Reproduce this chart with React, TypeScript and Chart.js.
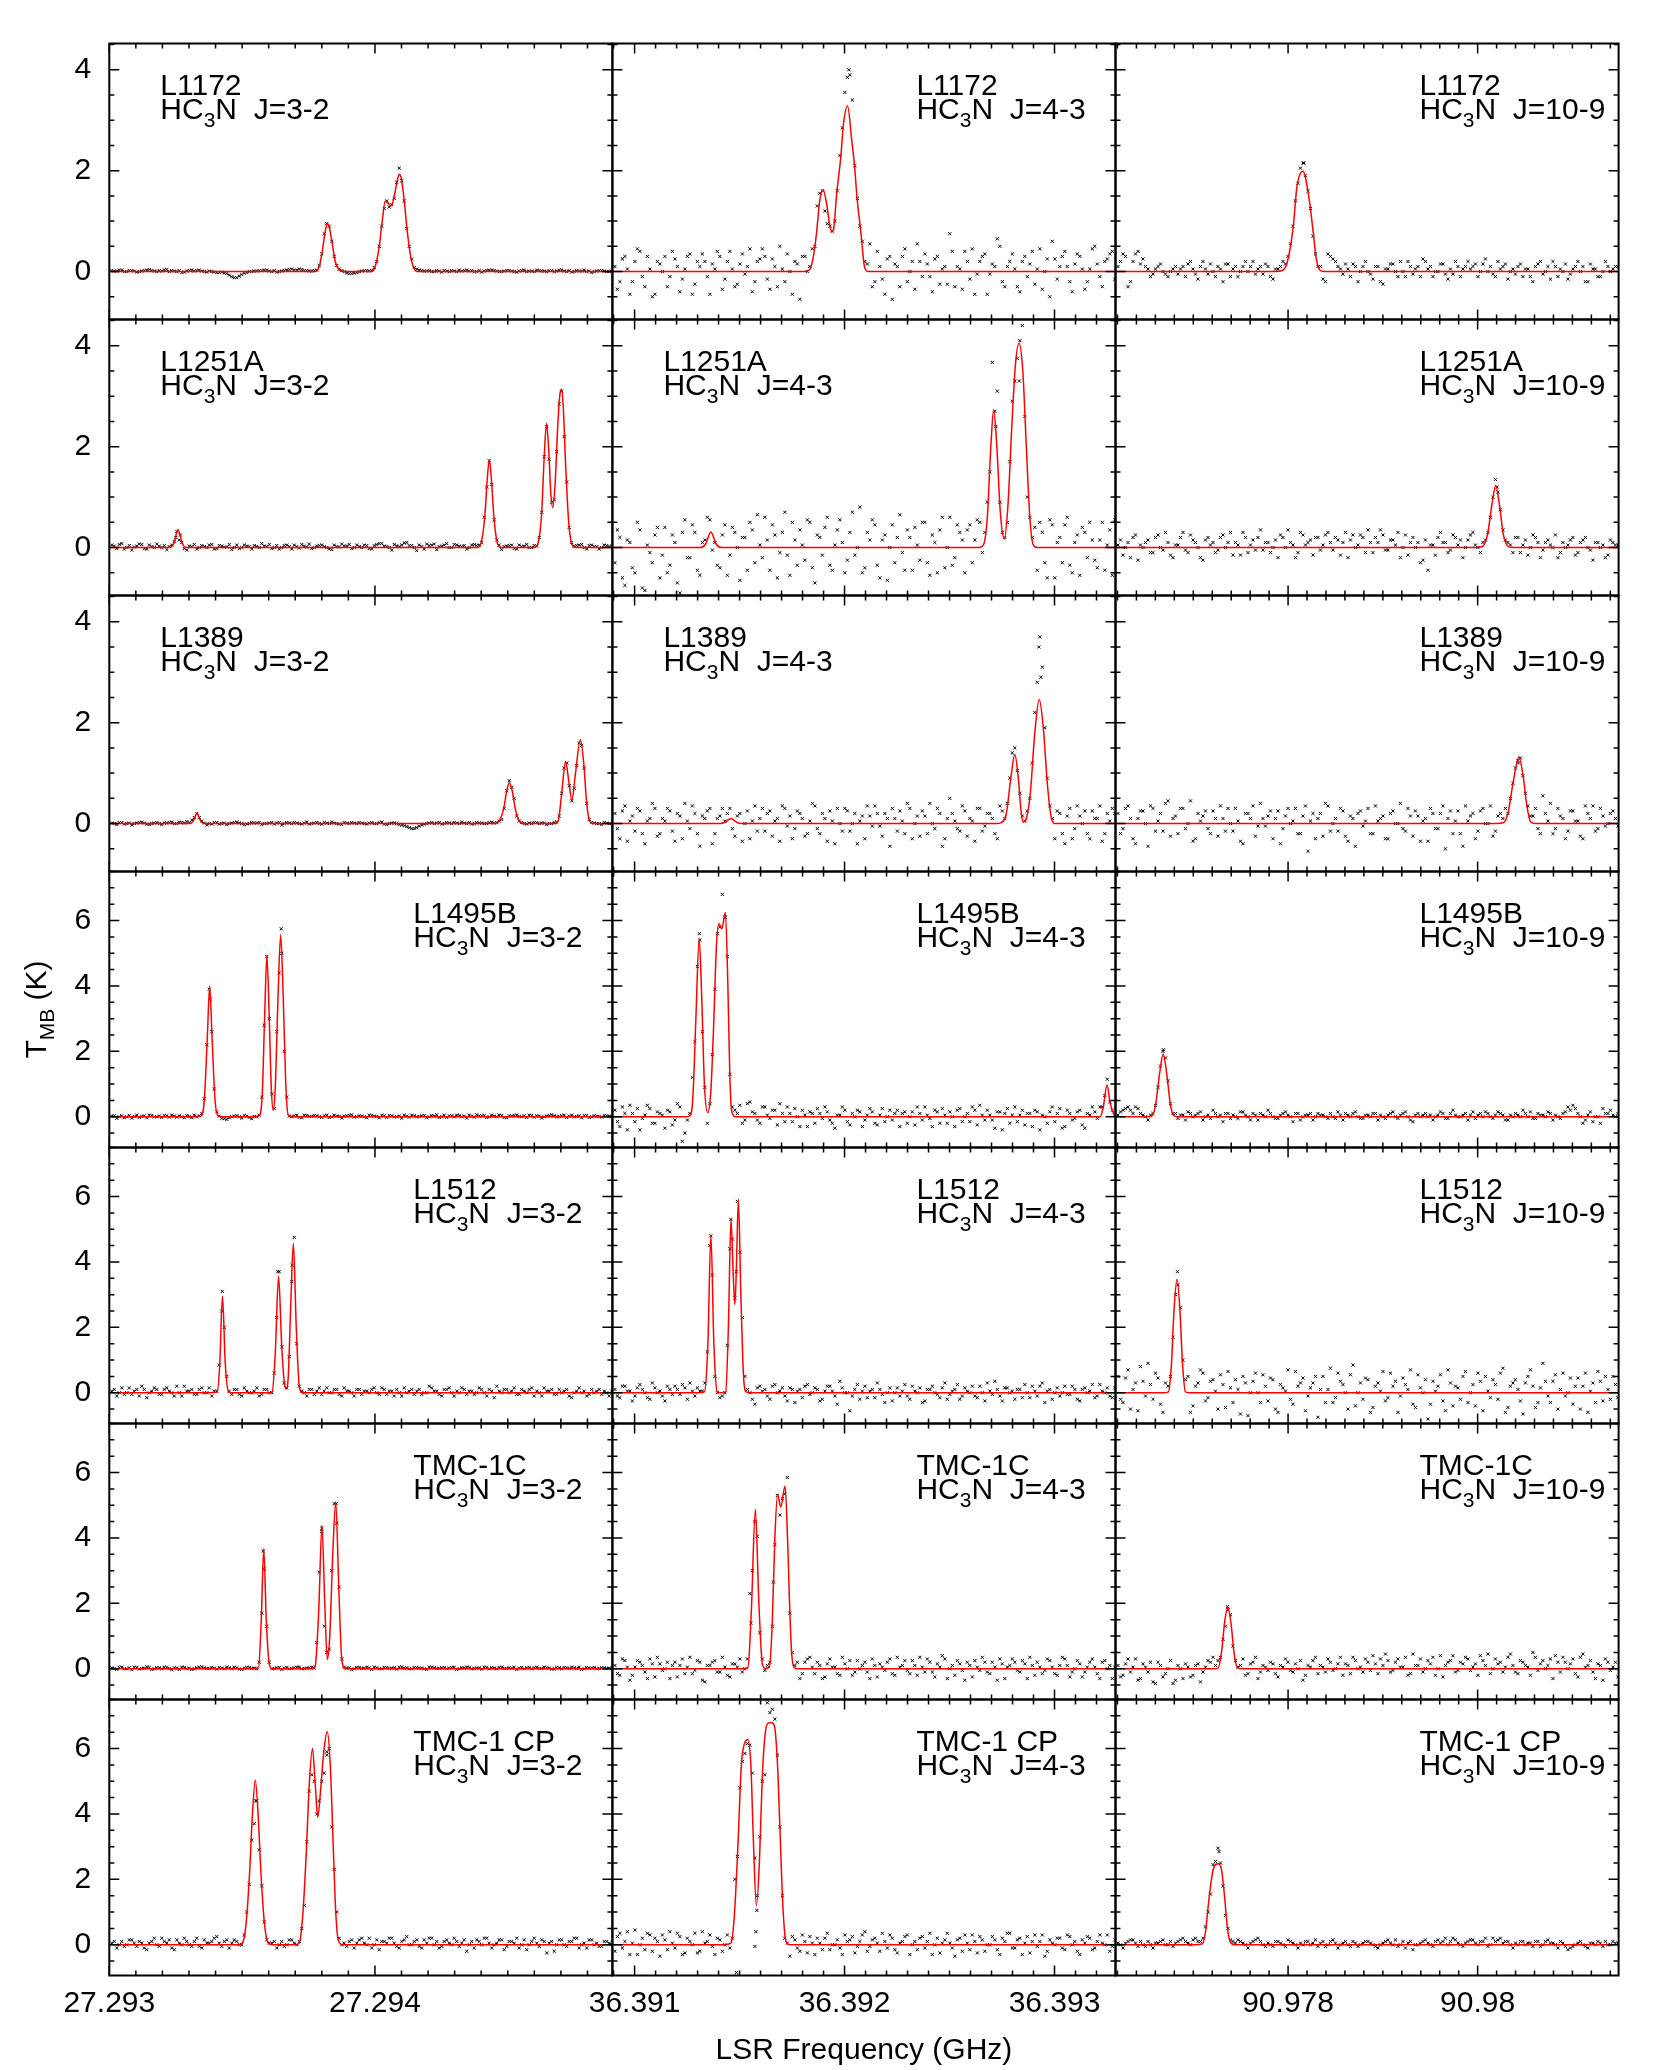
import React, { useEffect, useRef } from 'react';
import { Chart, registerables } from 'chart.js';

Chart.register(...registerables);

// ---------------- axis data ----------------
const SOURCES = ['L1172', 'L1251A', 'L1389', 'L1495B', 'L1512', 'TMC-1C', 'TMC-1 CP'];
const TRANSITIONS = ['J=3-2', 'J=4-3', 'J=10-9'];
const X_MIN = [27.293, 36.3908943, 90.9761793];
const X_MAX = [27.2948939, 36.3932905, 90.9814873];
const X_LABEL_TICKS = [[27.293, 27.294], [36.391, 36.392, 36.393], [90.978, 90.98]];
const X_MINOR_STEP = [0.0001, 0.0001, 0.0002];
const Y_MIN = [-0.95, -0.95, -0.95, -0.94, -0.94, -0.94, -0.94];
const Y_MAX = [4.52, 4.52, 4.52, 7.5, 7.5, 7.5, 7.5];
const Y_LABEL_TICKS = [[0, 2, 4], [0, 2, 4], [0, 2, 4], [0, 2, 4, 6], [0, 2, 4, 6], [0, 2, 4, 6], [0, 2, 4, 6]];
const Y_MINOR_STEP = 0.5;
// channel i (0..100) and half channels i+0.5; panel width = 100.64 channels
const CHANNEL_SPAN = 100.64;
const LABEL_SIDE = [
  ['L', 'R', 'R'],
  ['L', 'L', 'R'],
  ['L', 'L', 'R'],
  ['R', 'R', 'R'],
  ['R', 'R', 'R'],
  ['R', 'R', 'R'],
  ['R', 'R', 'R'],
];

// ---------------- spectra (T_MB in K) ----------------
// L1172
const L1172_J32_DOTS = [0.02,0.01,0.03,0,0.02,-0.01,0.01,0.03,0.02,0,
  0.01,0.04,0.02,0,-0.02,0.01,0.03,0.02,0.01,-0.01,
  0,-0.02,-0.01,-0.04,-0.1,-0.12,-0.06,-0.02,0,0.01,
  0.02,0.03,0,-0.01,0.01,0.03,0.05,0.03,0.04,0.02,
  0.01,0.03,0.35,0.95,0.6,0.12,0.02,-0.03,-0.04,-0.02,
  0.01,0.02,0.02,0.2,0.9,1.4,1.33,1.77,1.8,0.85,
  0.25,0.05,0.02,0.01,0,0.02,-0.01,0.01,0.02,0,
  0.01,0.03,0.02,0,-0.01,0.02,0.03,0.01,0,0.02,
  0.01,-0.01,0.02,0,0.01,0.03,0.01,0,0.02,0.01,
  0.03,0,-0.01,0.02,0.01,0,-0.02,0.01,0.02,0,
  0.01];
const L1172_J32_HALF = [0.01,0.03,0,0.02,0.01,0,0.02,0.04,0.01,0.02,
  0.03,0,0.01,0.02,-0.01,0.02,0.01,0.03,0,0.01,
  -0.01,-0.02,-0.03,-0.07,-0.12,-0.09,-0.03,0,0.01,0.02,
  0.03,0.01,0.02,0,0.02,0.04,0.03,0.05,0.02,0.01,
  0.02,0.12,0.75,0.9,0.3,0.05,0,-0.04,-0.03,0,
  0.02,0.01,0.08,0.5,1.25,1.28,1.45,2.05,1.4,0.5,
  0.08,0.03,0.01,0.02,0,0.01,0.02,0,0.01,0.03,
  0.02,0.01,0,0.02,0.01,0.03,0.02,0,0.01,0.02,
  0,0.01,0.03,0.01,0,0.02,0.01,0.02,0,0.03,
  0.01,0.02,0,0.01,0.03,0.01,0,0.02,0.01,0];
const L1172_J32_EXTRA: number[][] = [];
const L1172_J32_FIT = [[-0.5,0],[40.7,0],[41.5,0.1],[42.1,0.4],[42.7,0.8],[43.1,0.95],[43.5,0.88],[44.1,0.55],[44.7,0.2],[45.5,0.03],[46.3,0],
  [51.9,0],[52.7,0.1],[53.5,0.5],[54.1,1.0],[54.7,1.4],[55.3,1.35],[55.9,1.3],[56.5,1.5],[57.1,1.8],[57.5,1.93],[57.9,1.85],[58.5,1.4],[59.1,0.8],[59.7,0.35],[60.3,0.1],[61.1,0],[100.14,0]];

const L1172_J43_DOTS = [0.1,-0.2,0.3,-0.45,0.2,0.4,-0.3,0.05,-0.45,0.15,
  0.3,-0.1,0.25,-0.4,0.05,0.35,-0.25,0.1,0.2,-0.45,
  0.05,0.3,-0.15,0.4,-0.3,0.15,-0.05,0.45,-0.2,0.25,
  0.3,-0.35,0.1,0.5,-0.2,0,0.2,-0.55,0.3,0.1,
  0.5,1.55,1.2,0.9,1.0,2.3,3.55,3.9,2.1,0.9,
  0.2,0.55,-0.2,0.1,-0.45,0.3,0.15,-0.3,0.45,0,
  -0.35,0.2,0.35,-0.1,0.25,-0.25,0.1,0.75,-0.3,0.05,
  0.4,-0.15,-0.45,0.2,0.35,-0.05,0.1,0.5,-0.3,0.2,
  0.05,-0.4,0.3,0.15,-0.25,0.45,0,-0.5,0.25,0.1,
  0.4,-0.2,0.15,0.3,-0.35,0.05,0.5,-0.1,0.2,0.35,
  -0.15];
const L1172_J43_HALF = [-0.35,0.25,0.05,-0.2,0.45,-0.1,0.3,-0.5,0.2,0,
  -0.3,0.4,0.1,-0.15,0.3,-0.45,0.2,0.35,-0.1,0.15,
  0.4,-0.35,0.2,0.05,-0.25,0.35,0.1,-0.4,0.2,0.45,
  -0.15,0.25,-0.3,0.05,0.35,-0.45,0.15,0.3,0,0.45,
  1.3,1.6,0.95,0.8,1.6,2.85,3.85,3.4,1.45,0.6,
  0.15,-0.3,0.4,-0.15,0.25,-0.55,0.1,0.3,-0.2,0.2,
  0.55,-0.1,0.15,-0.4,0.3,0.05,-0.25,0.4,0.1,-0.35,
  0.2,0.45,-0.05,0.3,-0.45,0.15,0.65,-0.2,0.1,0.35,
  -0.3,0.2,-0.1,0.4,0.05,-0.35,0.25,0.6,-0.15,0.3,
  0.1,-0.4,0.35,0.05,-0.2,0.45,0.15,-0.3,0.25,0.4];
const L1172_J43_EXTRA = [[46.8,4.0]];
const L1172_J43_FIT = [[-0.5,0],[37.5,0],[38.9,0.03],[39.64,0.26],[40.32,0.75],[40.98,1.41],[41.66,1.62],[42.34,1.35],[43.02,0.89],[43.42,0.79],[43.82,0.89],
  [44.36,1.54],[45.18,2.26],[45.72,2.92],[46.54,3.28],[47.42,2.56],[47.92,2.12],[48.42,1.48],[49.24,0.75],[49.92,0.1],[50.7,0],[100.14,0]];

const L1172_J109_DOTS = [0.1,0.35,-0.3,0.2,0.4,0.25,0.05,-0.05,0.1,0,
  -0.1,0.05,-0.05,0.1,0.15,0.05,-0.15,0.2,-0.05,0,
  0.1,-0.2,0.15,0.05,-0.1,0.1,0,0.2,0.05,-0.05,
  0.1,-0.15,0.05,0.2,0.3,0.9,1.75,2.15,1.6,0.7,
  0.1,-0.15,0.35,0.25,0.1,-0.05,0.05,0.15,-0.2,0.1,
  0,-0.15,0.1,-0.25,0.05,0.15,-0.1,0,0.2,-0.05,
  0.1,0.25,0.05,-0.1,0,0.15,-0.15,-0.05,0.1,0.05,
  0.2,0.1,-0.1,0.15,0,-0.05,0.2,0.1,-0.15,0.05,
  0.1,-0.1,0.05,-0.2,0.15,-0.05,0.1,0.2,-0.1,0,
  -0.15,0.05,0.2,0.1,-0.2,0.05,-0.1,0,0.1,0.05,
  0.1];
const L1172_J109_HALF = [0.2,0.3,-0.2,0.35,0.15,0.1,-0.1,0.05,0.15,-0.05,
  0,0.1,0.05,-0.1,0.2,-0.05,0.1,0.05,0.15,-0.1,
  0.05,0.15,-0.1,0.1,0,0.2,0.1,-0.05,0.1,0.15,
  -0.1,0.05,0.1,0.15,0.55,1.4,2.05,1.9,1.25,0.35,
  0.1,-0.2,0.3,0.2,0.05,0.15,-0.1,0.1,0,0.2,
  -0.05,0.1,-0.2,0.05,0.15,0,0.2,-0.1,0.1,0.05,
  -0.1,0.2,0.1,0,0.15,-0.05,0.05,0.2,-0.1,0.1,
  0.05,0.15,0,0.25,0.1,-0.1,0.05,0.15,0,-0.05,
  0.15,0.05,-0.1,0.1,0.2,0,-0.15,0.1,0.05,0.15,
  -0.05,0.1,0,-0.2,0.15,0.05,-0.1,0.2,0,0.1];
const L1172_J109_EXTRA = [[37.2,2.15]];
const L1172_J109_FIT = [[-0.5,0],[31.5,0],[32.9,0.02],[33.9,0.2],[35.06,0.89],[35.78,1.67],[37.0,1.99],[38.28,1.41],[39.0,0.82],[39.7,0.23],[40.5,0.02],[41.5,0],[100.14,0]];

// L1251A
const L1251A_J32_DOTS = [0.05,-0.02,0.08,0,-0.05,0.03,0.06,-0.03,0.02,0.07,
  0,-0.04,0.05,0.32,0.1,-0.05,0.02,-0.03,0.04,0,
  0.06,-0.02,0.03,0.01,-0.04,0.05,0,0.03,-0.03,0.02,
  0.08,0.02,-0.02,0.04,0,0.05,-0.03,0.02,0.06,0.01,
  -0.02,0.03,0.05,0,-0.04,0.02,0.07,0.03,-0.02,0.05,
  0,0.04,-0.03,0.06,0.08,0.02,-0.05,0.03,0.05,0.1,
  0.04,-0.06,0.02,0.07,0.05,-0.04,0.03,0.08,0,0.05,
  0.02,-0.03,0.05,0.04,0.1,1.2,1.25,0.15,-0.04,0.03,
  0.05,-0.03,0.02,0.06,0,0.03,0.7,2.4,0.9,1.9,
  3.1,1.3,0.1,0.04,0.06,-0.03,0.05,0.02,0,0.04,
  0.03];
const L1251A_J32_HALF = [0.03,0.06,-0.03,0.04,0.01,0.07,-0.02,0.05,0,0.03,
  0.04,0.02,0.12,0.15,-0.02,0.03,0.06,0,0.02,0.05,
  -0.03,0.04,0.01,0.06,0,-0.02,0.05,0.02,0.04,0,
  0.03,0.06,0,-0.03,0.04,0.02,0.05,-0.01,0.03,0.07,
  0,0.04,0.02,-0.03,0.05,0.01,0.03,0.06,0,0.02,
  0.05,-0.02,0.04,0.08,0.03,0,0.06,0.02,0.09,0.04,
  0,0.05,-0.03,0.04,0.07,0.02,0.05,0,0.06,0.03,
  0.04,0,0.06,0.05,0.6,1.72,0.55,0.05,0.02,0.04,
  -0.02,0.05,0.03,0,0.04,0.2,1.8,1.75,0.95,2.85,
  2.2,0.4,0.03,0.05,0,0.04,0.02,-0.03,0.05,0.02];
const L1251A_J32_EXTRA = [[12.8,0.2],[13.7,0.25]];
const L1251A_J32_FIT = [[-0.5,0],[11.5,0],[12.4,0.08],[13.24,0.36],[14.1,0.08],[14.9,0],
  [73.1,0],[73.9,0.1],[74.6,0.6],[75.1,1.35],[75.52,1.74],[75.94,1.35],[76.44,0.6],[77.1,0.1],[77.9,0],
  [84.5,0],[85.3,0.1],[86.0,0.7],[86.5,1.8],[86.96,2.46],[87.42,1.9],[87.8,1.1],[88.22,0.79],[88.7,1.3],[89.2,2.4],[89.6,3.0],[89.92,3.14],[90.3,2.8],[90.8,1.6],[91.4,0.5],[92.1,0.05],[92.9,0],[100.14,0]];

const L1251A_J43_DOTS = [-0.3,0.2,-0.75,0.1,-0.5,0.35,-0.85,-0.1,0.25,-0.6,
  0.4,-0.35,0.1,-0.9,0.55,-0.2,0.3,-0.55,0.15,0.55,
  0.1,-0.4,0.45,-0.15,0.3,-0.65,0.2,0.5,-0.3,0.05,
  0.6,-0.45,0.25,-0.1,0.7,-0.55,0.15,0.35,-0.25,0.5,
  -0.7,0.2,0.4,-0.35,0.05,0.55,-0.5,0.3,-0.15,0.8,
  -0.4,0.15,0.45,-0.6,0.25,0,-0.3,0.65,-0.45,0.2,
  0.4,-0.25,0.5,-0.55,0.1,0.35,-0.4,0.6,-0.2,0.3,
  -0.5,0.45,0.15,0.5,0.3,1.5,2.7,0.9,0.2,1.7,
  3.3,4.1,2.6,0.6,0.4,0.5,-0.3,0.55,-0.6,0.2,
  0.45,-0.35,0.1,-0.55,0.3,0.5,-0.25,0.15,-0.45,0.35,
  0.55];
const L1251A_J43_HALF = [0.35,-0.6,0.15,-0.4,0.5,-0.8,0.05,-0.3,0.4,-0.15,
  -0.5,0.25,-0.7,0.3,-0.2,0.45,-0.45,0.1,0.6,-0.05,
  -0.35,0.25,-0.55,0.4,0,0.2,-0.45,0.35,0.65,-0.2,
  0.15,0.45,-0.6,0.3,-0.15,0.5,-0.35,0.05,0.55,-0.4,
  0.25,-0.15,0.6,-0.45,0.35,0.1,-0.25,0.7,0,-0.5,
  0.3,0.55,-0.35,0.15,-0.65,0.45,0.2,-0.1,0.35,-0.45,
  0.05,0.5,-0.3,0.25,-0.5,0.6,0,-0.35,0.45,0.15,
  0.35,-0.3,0.55,-0.1,0.9,3.67,3.1,0.3,0.5,2.9,
  3.75,4.4,1.0,0.2,-0.45,0.3,-0.6,0.45,0.1,-0.3,
  0.6,-0.5,0.25,0.4,-0.2,0.15,-0.4,0.5,0.05,-0.55];
const L1251A_J43_EXTRA = [[76.2,2.4],[80.9,3.3]];
const L1251A_J43_FIT = [[-0.5,0],[17.1,0],[18.1,0.06],[19.2,0.31],[20.3,0.06],[21.3,0],
  [72.7,0],[73.7,0.05],[74.5,0.6],[75.2,2.0],[75.76,2.73],[76.4,2.0],[77.1,0.7],[77.88,0.17],[78.6,0.8],[79.4,2.4],[80.1,3.6],[80.84,4.05],[81.6,3.5],[82.3,2.0],[83.0,0.6],[83.7,0.05],[84.5,0],[100.14,0]];

const L1251A_J109_DOTS = [0.05,-0.15,0.1,0.2,-0.25,0,0.15,-0.1,0.25,-0.05,
  0.1,-0.2,0.05,0.3,-0.1,0.15,0,-0.25,0.2,0.1,
  -0.05,0.25,0.1,-0.15,0.05,0.3,-0.1,0.15,0.2,-0.05,
  0.1,0,-0.2,0.2,0.35,0.05,-0.1,0.25,0.1,-0.15,
  0.2,0.05,0.3,-0.05,0.15,0.1,-0.2,0.25,0.05,0.2,
  0.35,-0.1,0.1,0.25,-0.05,0.15,0.3,0,-0.15,0.2,
  0.1,-0.25,-0.45,0.05,0.2,0.1,-0.1,0.25,0.05,-0.2,
  0.15,0.3,0,0.1,0.3,1.0,1.1,0.35,0.1,-0.1,
  0.2,0.05,-0.15,0.25,0.1,-0.05,0.15,0,-0.2,0.1,
  0.05,0.2,-0.1,0.15,0,-0.25,0.1,0.05,-0.15,0.1,
  0.05];
const L1251A_J109_HALF = [0.15,0,-0.2,0.25,0.05,0.1,-0.1,0.2,0,0.3,
  -0.15,0.05,0.2,-0.05,0.25,0.1,-0.2,0.15,0.05,-0.1,
  0.2,0,0.3,0.1,-0.15,0.2,0.05,-0.05,0.35,0.1,
  -0.1,0.15,0.25,0,0.1,-0.2,0.3,0.05,0.15,0.2,
  -0.05,0.25,0.1,0.2,-0.15,0.3,0.15,0,0.25,-0.1,
  0.1,0.2,0.35,-0.05,0.15,0.05,-0.2,0.25,0.1,0,
  -0.3,0.15,0.05,-0.15,0.3,0.1,-0.05,0.2,0.15,0,
  0.25,0.05,-0.1,0.15,0.6,1.35,0.75,0.15,0.05,0.2,
  -0.1,0.15,0,0.2,-0.2,0.1,0.05,0.25,-0.1,0,
  0.15,-0.15,0.1,0.2,-0.05,0.1,0,-0.2,0.15,0.05];
const L1251A_J109_EXTRA = [[75.8,1.2]];
const L1251A_J109_FIT = [[-0.5,0],[71.5,0],[72.9,0.02],[73.9,0.25],[74.8,0.85],[75.56,1.23],[76.3,0.85],[77.1,0.25],[78.1,0.02],[79.1,0],[100.14,0]];

// L1389
const L1389_J32_DOTS = [0.01,-0.02,0.02,0,-0.03,0.01,0.03,-0.01,0,0.02,
  -0.02,0.01,0.03,0,0.02,0.04,0.07,0.2,0.05,-0.03,
  -0.01,0.02,0,-0.02,0.01,0.03,0,-0.01,0.02,0.01,
  -0.02,0,0.02,0.01,-0.03,0.02,0,0.01,-0.01,0.03,
  0,0.02,-0.01,0.01,0.03,0,-0.02,0.01,0.02,0,
  0.01,-0.01,0.02,0,0.03,-0.02,0.01,0,-0.03,-0.06,
  -0.1,-0.08,-0.03,0,0.02,0.01,-0.01,0.02,0,0.01,
  0.03,0,-0.01,0.02,0.01,0,0.03,0.02,0.08,0.65,
  0.72,0.15,0.02,-0.01,0,0.02,0.01,-0.02,0,0.03,
  0.6,1.2,0.45,1.15,1.55,0.4,0.02,0,-0.02,0.01,
  0];
const L1389_J32_HALF = [0,0.02,-0.01,0.01,0,0.02,0.01,-0.02,0.01,0,
  0.01,0.02,0,0.03,0.01,0.02,0.12,0.12,0.01,0,
  0.02,-0.01,0.01,0,0.02,0.01,-0.02,0,0.01,0.02,
  0,0.01,-0.01,0.02,0,0.01,0.02,0,0.01,-0.01,
  0.01,0,0.02,0,0.01,-0.01,0.02,0,0.01,0.02,
  0,0.01,0,0.02,-0.01,0,0.01,-0.02,-0.04,-0.08,
  -0.1,-0.05,-0.01,0.01,0,0.02,0,0.01,0.02,0,
  0.01,0.02,0,0.01,0,0.02,0.01,0.05,0.3,0.85,
  0.5,0.05,0,0.01,0.02,0,0.01,0,0.02,0.15,
  1.1,0.75,0.7,1.6,1.1,0.08,0.01,0,0.02,0];
const L1389_J32_EXTRA: number[][] = [];
const L1389_J32_FIT = [[-0.5,0],[15.5,0],[16.3,0.05],[17.04,0.2],[17.8,0.05],[18.5,0],
  [76.7,0],[77.5,0.05],[78.4,0.3],[79.0,0.65],[79.54,0.81],[80.1,0.65],[80.7,0.3],[81.5,0.05],[82.3,0],
  [88.5,0],[89.3,0.05],[90.0,0.6],[90.78,1.23],[91.4,0.85],[92.04,0.46],[92.7,0.95],[93.74,1.66],[94.4,1.2],[95.0,0.4],[95.6,0.05],[96.5,0],[100.14,0]];

const L1389_J43_DOTS = [0.2,-0.3,0.35,0.05,-0.15,0.25,-0.4,0.1,0.3,-0.2,
  0.05,0.25,-0.35,0.15,0.4,-0.1,0.2,-0.45,0.1,0.3,
  -0.2,0.15,0.05,0.3,-0.25,0.2,0,-0.3,0.35,0.1,
  -0.15,0.25,0.05,-0.35,0.3,0.15,-0.1,0.2,-0.25,0.05,
  0.35,-0.2,0.1,0.25,-0.4,0,0.3,-0.15,0.2,0.05,
  -0.3,0.15,0.35,-0.05,0.2,-0.45,0.1,0.25,-0.2,0.3,
  0,-0.25,0.15,0.4,-0.1,0.2,-0.3,0.5,0.05,-0.15,
  0.25,0.1,-0.35,0.3,-0.05,0.2,-0.2,0.35,0.1,0.9,
  1.5,0.6,0.05,0.5,2.2,3.7,1.9,0.35,-0.3,0.2,
  -0.4,0.3,-0.1,0.15,0.25,-0.3,0.1,0.35,-0.2,0.05,
  0.2];
const L1389_J43_HALF = [-0.1,0.25,-0.35,0.15,0.3,-0.2,0.05,0.4,-0.25,0.1,
  0.3,-0.15,0.2,-0.3,0.05,0.35,-0.2,0.15,0.25,-0.4,
  0.1,0.3,0.2,-0.1,0.15,-0.35,0.25,0.05,-0.15,0.3,
  0.2,-0.25,0.1,0.35,-0.05,-0.3,0.25,0.1,-0.2,0.4,
  -0.1,0.2,-0.35,0.05,0.3,-0.15,0.25,0,-0.4,0.15,
  0.35,-0.05,0.2,-0.25,0.1,0.3,-0.15,0.05,0.4,-0.3,
  0.15,0.25,-0.2,0,0.3,-0.45,0.1,0.2,-0.1,0.35,
  -0.25,0.05,0.3,-0.15,0.2,0.1,-0.3,0.25,0.4,1.4,
  1.05,0.15,0.25,1.2,2.8,3.1,0.9,0.1,0.25,-0.2,
  0.15,-0.3,0.35,0,-0.2,0.25,0.1,-0.35,0.2,0.3];
const L1389_J43_EXTRA = [[84.8,3.5],[85.2,2.9]];
const L1389_J43_FIT = [[-0.5,0],[21.1,0],[22.1,0.03],[23.22,0.1],[24.3,0.03],[25.3,0],
  [76.3,0],[77.3,0.02],[78.3,0.2],[79.2,0.9],[80.0,1.37],[80.7,0.9],[81.3,0.2],[81.7,0.03],[82.3,0.1],[83.1,0.6],[84.0,1.8],[84.88,2.46],[85.7,1.9],[86.5,0.8],[87.3,0.12],[88.1,0],[100.14,0]];

const L1389_J109_DOTS = [0.2,-0.1,0.35,-0.3,0.1,0.25,-0.45,0.3,0.05,-0.15,
  0.45,0.1,-0.2,0.3,0,-0.35,0.2,0.15,-0.1,0.25,
  -0.25,0.1,0.3,-0.15,0.05,-0.4,0.2,0.35,-0.05,0.1,
  0.15,-0.3,0.25,-0.1,0.3,0.05,-0.2,0.15,-0.55,0.2,
  0.1,-0.25,0.35,0,-0.15,0.25,-0.35,0.1,0.2,-0.05,
  0.3,-0.2,0.05,0.15,-0.3,0.25,0,-0.1,0.3,-0.25,
  0.15,0.05,-0.35,0.2,-0.1,0.35,0.1,-0.2,0.25,-0.45,
  0.05,0.2,-0.15,0.3,0,-0.25,0.15,0.1,0.2,0.8,
  1.25,0.95,0.35,0.15,-0.1,0.55,0.05,-0.2,0.3,0.1,
  -0.15,0.25,0.05,-0.3,0.2,0.35,-0.1,0.15,0,0.25,
  -0.05];
const L1389_J109_HALF = [-0.2,0.3,0.1,-0.4,0.25,0,0.35,-0.15,0.2,0.4,
  -0.25,0.15,0.3,-0.1,0.45,-0.3,0.05,0.25,-0.2,0.1,
  0.35,-0.15,0,0.3,-0.35,0.2,0.1,-0.25,0.4,-0.05,
  0.25,0.1,-0.4,0.15,0,0.3,-0.2,0.35,0.05,-0.3,
  0.2,0.4,-0.15,0.1,0.3,-0.25,0.15,-0.45,0.25,0.05,
  -0.2,0.35,0.1,-0.3,0.2,0,0.4,-0.15,0.15,0.25,
  -0.35,0.1,0.3,-0.1,0.2,-0.5,0.25,0.05,-0.2,0.35,
  0.15,-0.3,0.25,0,0.35,-0.15,0.2,0.3,0.5,1.1,
  1.3,0.6,0.15,0.3,-0.2,0.2,0.4,-0.1,0.15,-0.3,
  0.25,0.05,-0.25,0.35,0.1,-0.15,0.3,-0.05,0.2,0.1];
const L1389_J109_EXTRA = [[80.1,1.2]];
const L1389_J109_FIT = [[-0.5,0],[75.7,0],[77.2,0.02],[78.1,0.25],[79.1,0.85],[80.22,1.32],[81.1,0.9],[81.8,0.35],[82.56,0.03],[83.5,0],[100.14,0]];

// L1495B
const L1495B_J32_DOTS = [0.02,-0.05,0.03,0,-0.04,0.05,0.01,-0.03,0.04,0,
  -0.02,0.03,0.05,-0.01,0,0.04,-0.03,0,0.1,2.2,
  2.6,0.15,-0.05,-0.08,0,0.03,-0.04,0.02,-0.06,0,
  0.6,4.9,0.7,2.6,5.0,0.6,0,0.05,-0.03,0.04,
  0.01,0.03,-0.02,0.05,0,0.02,-0.04,0.03,0.06,0,
  0.02,-0.03,0.04,0.01,0.05,-0.02,0.03,0,-0.04,0.02,
  0.05,0,0.03,-0.03,0.04,0.06,0,-0.02,0.03,0.05,
  0,-0.04,0.02,0.06,0.03,-0.02,0.05,0,0.04,-0.03,
  0.02,0.05,0,-0.02,0.04,0.03,-0.04,0.02,0.06,0,
  0.03,-0.02,0.05,0.01,-0.03,0.04,0,0.02,-0.01,0.03,
  0];
const L1495B_J32_HALF = [0.03,0,-0.03,0.04,0.01,-0.02,0.03,0.05,0,0.02,
  0.04,-0.01,0.02,0.03,-0.03,0.01,0.05,0.03,0.55,3.9,
  0.85,0.02,-0.06,-0.03,0.02,0,0.04,-0.02,0.01,0.05,
  2.8,3.0,0.25,4.4,2.0,0.02,0.03,-0.02,0.05,0.01,
  0.04,0,0.03,-0.02,0.05,0.01,0.02,0.04,-0.01,0.03,
  0,0.05,0.02,-0.03,0.03,0.04,0,0.02,0.05,-0.01,
  0.03,0.01,0.04,0,0.02,-0.02,0.05,0.03,0,0.04,
  0.02,0.05,-0.01,0.03,0.04,0,0.02,0.05,-0.02,0.03,
  0.04,0.01,0.03,0.05,-0.01,0.02,0,0.04,0.03,0.01,
  0.05,0.02,0,0.03,0.04,-0.02,0.03,0.01,0.04,0.02];
const L1495B_J32_EXTRA = [[19.7,3.6],[33.9,5.75]];
const L1495B_J32_FIT = [[-0.5,0],[16.5,0],[17.8,0.02],[18.5,0.5],[19.1,2.4],[19.58,3.99],[20.06,2.4],[20.66,0.5],[21.3,0.02],[22.3,0],
  [28.3,0],[29.5,0.03],[30.1,0.7],[30.6,3.2],[31.02,4.93],[31.5,3.0],[31.9,0.9],[32.3,0.2],[32.7,0.9],[33.2,3.4],[33.78,5.57],[34.3,3.6],[34.8,1.0],[35.3,0.05],[36.3,0],[100.14,0]];

const L1495B_J43_DOTS = [0.2,-0.3,0.1,0.35,-0.15,-0.4,0.05,0.25,-0.2,0.1,
  -0.35,0.15,-0.1,0.3,-0.5,0.1,2.3,5.4,0.9,0.4,
  3.9,5.8,6.1,1.3,0.2,0.35,-0.1,0.45,0.1,-0.2,
  0.3,-0.05,0.2,0.4,-0.15,0.1,0.25,-0.3,0.05,0.15,
  -0.2,0.1,0.3,-0.1,-0.35,0.05,0.2,-0.25,0,0.15,
  -0.1,0.25,-0.2,0.05,-0.15,0.2,0.1,-0.3,0.15,0,
  -0.25,0.1,0.3,-0.05,0.2,-0.2,0.05,0.15,-0.3,0.25,
  0,-0.15,0.2,0.35,-0.1,0.05,-0.35,0.15,0.1,-0.2,
  0.3,0.05,-0.25,0.1,0.2,-0.4,0,0.15,-0.15,0.25,
  -0.3,0.1,-0.05,0.2,-0.35,0.05,0.15,0.3,0.65,0.45,
  0.05];
const L1495B_J43_HALF = [-0.15,0.3,-0.4,0.1,0.25,-0.05,0.35,-0.2,0.15,0.05,
  0.2,-0.25,0.4,-0.75,-0.1,1.2,4.6,2.6,-0.2,1.9,
  5.6,6.8,4.9,0.3,0.1,-0.2,0.4,0.15,-0.1,0.3,
  0.05,0.2,-0.25,0.1,0.3,-0.15,0,0.2,-0.3,0.1,
  0.25,-0.05,0.15,-0.2,0.05,0.3,-0.15,0.1,0.2,-0.3,
  0.05,0.15,-0.25,0.25,0,-0.1,0.2,0.1,-0.2,0.15,
  0.3,-0.1,0.05,-0.3,0.15,0.25,-0.2,0,0.2,-0.15,
  0.1,0.3,-0.25,0.05,0.2,-0.1,0.15,-0.4,0.25,0.05,
  -0.15,0.2,0.1,-0.3,0.15,0.05,-0.2,0.3,0.1,-0.35,
  0.2,-0.1,0.15,-0.25,0.1,0.3,-0.05,0.3,1.15,0.2];
const L1495B_J43_EXTRA = [[16.9,5.6],[22.1,6.1]];
const L1495B_J43_FIT = [[-0.5,0],[13.9,0],[14.96,0.02],[15.6,0.6],[16.2,3.0],[16.86,5.46],[17.4,3.5],[17.9,1.0],[18.56,0.13],[19.2,0.8],[19.8,3.0],[20.3,5.2],[20.8,5.9],[21.4,5.75],[22.1,6.25],[22.6,4.0],[23.0,1.2],[23.4,0.15],[24.1,0],
  [97.1,0],[97.7,0.3],[98.44,0.97],[99.1,0.4],[99.9,0.05],[100.14,0.02]];

const L1495B_J109_DOTS = [0.05,0.2,0.3,0.1,0.25,0.05,-0.1,0.1,0.9,2.0,
  1.1,0.1,-0.05,0.05,0.15,0,0.1,-0.1,0.05,0.2,
  0,-0.15,0.1,0.05,-0.05,0.15,0,0.1,-0.1,0.05,
  0.2,0,-0.05,0.1,0.05,-0.15,0.1,0,0.05,-0.1,
  0.1,0.05,-0.05,0,0.15,-0.1,0.05,0.1,0,-0.05,
  0.05,0.1,-0.1,0,0.05,0.15,-0.05,0.1,0,-0.15,
  0.1,0.05,0,-0.1,0.05,0.1,-0.05,0.2,0,0.05,
  -0.1,0.15,0.05,0,0.1,-0.05,0.15,0.05,-0.1,0,
  0.05,0.2,0,-0.05,0.1,0.05,0.15,-0.1,0,0.1,
  0.3,0.35,0.1,-0.2,0.05,-0.15,0,0.25,0.1,0.05,
  0.1];
const L1495B_J109_HALF = [0.15,0.25,0.2,0.3,0.1,0,0.05,0.35,1.55,1.8,
  0.4,0.1,0.05,-0.1,0.1,0.05,0.15,0,-0.05,0.1,
  0.05,0.1,-0.05,0,0.15,0.05,-0.1,0.05,0.1,0,
  0.1,-0.05,0.05,0.15,0,0.1,-0.1,0.05,0.1,0,
  0.05,0,0.1,-0.05,0.05,0.1,0,0.15,-0.05,0.05,
  0,0.1,0.05,-0.05,0.1,0,0.05,0.15,-0.1,0.05,
  0,0.1,0.05,0,0.15,-0.05,0.1,0.05,0,0.1,
  0.05,-0.05,0.1,0.15,0,0.05,0.1,-0.1,0.05,0.1,
  0,0.1,0.15,-0.05,0.05,0,0.1,0.05,-0.05,0.15,
  0.2,0.25,0,-0.1,0.15,0,-0.2,0.1,0.2,0];
const L1495B_J109_EXTRA = [[9.1,2.05]];
const L1495B_J109_FIT = [[-0.5,0],[5.5,0],[6.7,0.02],[7.5,0.35],[8.3,1.3],[9.04,1.92],[9.8,1.25],[10.5,0.35],[11.3,0.02],[12.3,0],[100.14,0]];

// L1512
const L1512_J32_DOTS = [0.05,-0.1,0.15,0,-0.05,0.1,0.2,-0.15,0.05,0.1,
  -0.05,0.15,0,0.2,-0.1,0.05,0.1,-0.05,0.15,0,
  -0.1,0.05,2.5,0.5,-0.05,0.1,-0.1,0.05,0,0.15,
  -0.05,0.1,0,2.3,1.4,0.15,3.4,1.5,0.05,-0.1,
  0.1,0.05,-0.05,0.15,0,0.1,-0.1,0.05,0,0.1,
  -0.05,0.05,0.1,0,0.15,-0.05,0.05,0.1,-0.1,0,
  0.1,0.05,-0.05,0,0.15,0.05,-0.1,0.1,0,0.05,
  0.15,-0.05,0.05,0,0.1,-0.1,0.05,0.2,0,0.1,
  0.05,-0.05,0.1,0,0.15,0.05,-0.1,0.05,0.1,-0.05,
  0,0.1,-0.15,0.05,0,-0.1,0.1,0.05,-0.05,0,
  0.05];
const L1512_J32_HALF = [0.1,0,-0.05,0.15,0.05,-0.1,0.1,0,0.15,-0.05,
  0.1,0.05,-0.1,0,0.2,0.05,-0.05,0.1,0,0.15,
  0.05,0.85,2.0,0.05,0.1,-0.05,0.15,0,0.05,-0.1,
  0.1,0,0.6,3.7,0.3,1.1,4.75,0.2,0,0.1,
  -0.05,0.15,0.05,0,0.1,-0.05,0.15,0.05,-0.1,0.1,
  0.05,0,0.15,-0.05,0.1,0.05,-0.1,0,0.15,0.05,
  -0.05,0.1,0,0.2,0.05,-0.05,0.1,0.15,-0.1,0,
  0.1,0.05,-0.05,0.15,0,0.1,-0.15,0.05,0.1,0,
  0.15,-0.05,0.05,0.1,-0.1,0,0.15,0.05,-0.05,0.1,
  0.05,-0.1,0,0.15,0.05,-0.05,0,0.1,0.05,-0.1];
const L1512_J32_EXTRA = [[22.1,3.1],[33.2,3.7],[36.1,3.9]];
const L1512_J32_FIT = [[-0.5,0],[19.5,0],[21.08,0.02],[21.6,0.9],[22.14,2.96],[22.7,0.9],[23.4,0.02],[24.3,0],
  [31.1,0],[32.08,0.03],[32.7,1.2],[33.36,3.57],[34.0,1.4],[34.6,0.2],[34.9,0.12],[35.3,0.5],[35.8,2.7],[36.32,4.57],[36.9,2.0],[37.5,0.2],[38.1,0],[100.14,0]];

const L1512_J43_DOTS = [0.1,-0.15,0.2,0.05,-0.1,0.25,0,-0.2,0.15,0.05,
  -0.25,0.1,0.2,-0.05,0.15,0.3,-0.1,0.05,0.3,4.5,
  0.5,-0.15,0,4.4,2.9,4.3,0.5,0,-0.35,0.2,
  0.1,-0.2,0.25,0.05,-0.1,0.15,-0.3,0.1,0.2,-0.05,
  0.15,-0.25,0.05,0.2,-0.1,0.35,0,-0.55,0.1,-0.2,
  0.2,0.05,-0.15,0.1,-0.3,0.15,0,-0.1,0.25,-0.2,
  0.05,0.15,-0.25,0.1,0,-0.15,0.3,-0.05,0.1,-0.2,
  0.15,0,-0.1,0.2,-0.25,0.05,0.35,-0.1,0.15,0,
  -0.2,0.1,0.25,-0.15,0.05,0.2,-0.3,0.1,0,-0.1,
  0.2,-0.05,0.1,-0.25,0.15,0.05,-0.15,0.25,0,-0.1,
  0.15];
const L1512_J43_HALF = [-0.1,0.2,0.05,-0.25,0.15,0.1,-0.15,0.3,0,-0.1,
  0.2,-0.05,0.1,0.25,-0.2,0.05,0.15,0.05,1.25,3.6,
  0,-0.1,1.45,4.7,5.85,2.3,0.1,-0.2,0.15,0.05,
  -0.1,0.2,0,0.15,-0.25,0.1,0.05,-0.15,0.25,0,
  0.1,-0.2,0.2,0.05,-0.35,0.15,0,-0.1,0.25,0.05,
  -0.15,0.1,0.3,-0.05,0,-0.25,0.15,0.05,-0.1,0.2,
  0,-0.3,0.1,0.2,-0.05,0.15,-0.2,0.05,0.25,-0.1,
  0.05,0.2,-0.15,0,0.3,-0.05,0.1,-0.25,0.15,0.05,
  0.1,-0.15,0,0.2,-0.1,0.3,0.05,-0.2,0.15,0,
  -0.05,0.2,-0.2,0.1,0,0.25,-0.1,0.05,0.15,-0.15];
const L1512_J43_EXTRA = [[19.2,4.8],[23.2,5.3],[24.3,3.7]];
const L1512_J43_FIT = [[-0.5,0],[16.7,0],[17.92,0.03],[18.6,1.5],[19.2,4.83],[19.8,1.5],[20.46,0.03],[21.3,0],
  [22.16,0.03],[22.7,2.0],[23.22,5.31],[23.7,3.5],[24.0,2.7],[24.3,3.8],[24.7,5.92],[25.2,3.0],[25.7,0.6],[26.1,0.05],[26.9,0],[100.14,0]];

const L1512_J109_DOTS = [0.5,-0.3,0.7,0.1,-0.55,0.35,0.9,-0.2,0.45,-0.6,
  0.2,1.7,3.3,1.0,0.5,-0.4,0.3,0.6,-0.15,0.4,
  -0.5,0.25,0.65,-0.3,0.1,0.5,-0.7,0.35,0,0.55,
  -0.25,0.4,-0.6,0.15,0.7,-0.35,0.2,0.45,-0.1,0.3,
  -0.75,0.5,0.1,-0.3,0.6,0.25,-0.5,0.85,0,-0.2,
  0.4,-0.45,0.3,0.65,-0.15,0.2,-0.6,0.45,0.1,-0.35,
  0.55,0,-0.8,0.35,0.2,-0.25,0.7,-0.4,0.15,0.5,
  -0.3,0.25,0.6,-0.55,0.05,0.4,-0.2,0.75,-0.45,0.3,
  0.1,-0.65,0.5,0.2,-0.3,0.9,-0.1,0.35,-0.5,0.6,
  0,-0.35,0.45,0.2,-0.6,0.3,0.65,-0.25,0.1,0.5,
  -0.15];
const L1512_J109_HALF = [-0.2,0.45,-0.5,0.3,0.8,-0.1,0.25,0.6,-0.35,0.3,
  0.5,3.0,2.6,0.4,-0.6,0.2,0.7,-0.25,0.35,0.05,
  0.55,-0.45,0.15,0.4,-0.65,0.3,0,0.6,-0.3,0.2,
  0.45,-0.5,0.25,0.05,-0.2,0.65,0.3,-0.55,0.15,0.5,
  0.1,-0.3,0.75,-0.15,0.35,0,0.55,-0.4,0.3,0.45,
  -0.6,0.2,0.05,-0.25,0.6,0.35,-0.1,0.25,0.7,-0.45,
  0.15,0.4,-0.35,0.05,0.55,-0.55,0.3,0.2,-0.2,0.65,
  0,-0.4,0.35,0.5,-0.15,0.25,0.6,-0.6,0.2,0.4,
  -0.25,0.3,0.7,-0.45,0.15,0.35,-0.3,0.55,0.1,-0.1,
  0.45,0.2,-0.5,0.6,0.05,-0.3,0.35,0.5,-0.2,0.25];
const L1512_J109_EXTRA = [[11.9,3.7]];
const L1512_J109_FIT = [[-0.5,0],[9.1,0],[10.1,0.03],[10.7,0.9],[11.2,2.5],[11.8,3.47],[12.4,2.5],[12.9,0.9],[13.5,0.03],[14.5,0],[100.14,0]];

// TMC-1C
const TMC1C_J32_DOTS = [0.03,-0.02,0.05,0,-0.03,0.04,0.01,0.06,-0.02,0.03,
  0,0.04,-0.03,0.02,0.05,0,-0.02,0.03,0.06,0.01,
  0.04,-0.01,0.02,0.05,0,0.03,-0.02,0.04,0.01,0,
  1.7,1.3,0,0.03,-0.02,0.04,0.01,0.05,0,0.02,
  0.05,0.8,4.3,0.5,3.0,4.45,0.3,0.02,-0.03,0.04,
  0.01,0.05,-0.02,0.03,0,0.04,0.02,-0.01,0.05,0.03,
  0,0.04,0.02,-0.02,0.05,0.01,0.03,0,0.04,-0.02,
  0.03,0.05,0,0.02,-0.01,0.04,0.03,0,0.05,0.01,
  0.02,-0.02,0.04,0.03,0,0.05,0.01,0.03,-0.01,0.04,
  0,0.03,0.05,0.01,-0.02,0.04,0.02,0,0.03,0.01,
  0.02];
const TMC1C_J32_HALF = [0.01,0.04,0,0.03,0.05,-0.01,0.02,0.04,0,0.03,
  0.05,0.01,0.03,-0.02,0.04,0.02,0,0.05,0.03,0.01,
  0.02,0.04,0,0.03,0.05,-0.01,0.02,0.04,0.02,0.2,
  3.05,0.2,0.01,0.04,0.02,0,0.03,0.05,0.01,0.03,
  0.02,2.95,1.3,0.6,5.05,2.5,0.05,0.03,0,0.04,
  0.02,0.03,0.05,0,0.04,0.01,0.03,0.05,0.02,0,
  0.04,0.02,0,0.05,0.03,0.01,0.04,0.02,0.05,0,
  0.02,0.04,0.01,0.03,0.05,0,0.02,0.04,0.01,0.03,
  0.05,0.02,0,0.04,0.03,0.01,0.05,0.02,0,0.03,
  0.04,0.01,0.03,0.05,0,0.02,0.04,0.01,0.03,0.02];
const TMC1C_J32_EXTRA = [[30.3,3.6],[42.0,4.2],[44.9,5.05]];
const TMC1C_J32_FIT = [[-0.5,0],[27.9,0],[29.34,0.03],[29.9,1.5],[30.4,3.67],[30.9,1.5],[31.5,0.15],[32.1,0],
  [40.1,0],[40.7,0.1],[41.4,1.8],[42.04,4.39],[42.6,2.0],[43.1,0.28],[43.6,1.0],[44.2,3.5],[44.8,5.11],[45.4,2.5],[46.0,0.3],[46.7,0],[100.14,0]];

const TMC1C_J43_DOTS = [0.1,-0.2,0.25,-0.35,0.05,0.2,-0.1,0.3,-0.25,0.15,
  0,-0.3,0.2,0.1,-0.15,0.35,-0.05,0.2,-0.4,0.1,
  0.25,-0.1,0.05,-0.25,0.15,0.3,0,2.3,4.5,1.1,
  -0.05,0.2,3.8,4.7,5.35,1.7,0.1,-0.3,0.2,0.35,
  -0.15,0.1,-0.25,0.3,0.05,-0.2,0.15,0.25,-0.1,0,
  0.2,-0.3,0.1,0.15,-0.05,0.3,-0.2,0.05,0.25,-0.15,
  0.1,0.35,-0.1,0.2,-0.25,0.05,0.3,0,-0.2,0.15,
  -0.35,0.1,0.25,-0.05,0.2,-0.15,0.05,0.3,-0.3,0.1,
  0.2,-0.1,0.15,0.35,-0.2,0.05,-0.05,0.25,-0.15,0.1,
  0.3,-0.25,0,0.15,-0.1,0.2,0.05,-0.3,0.25,0.1,
  0.05];
const TMC1C_J43_HALF = [-0.15,0.3,0.05,-0.2,0.25,0.1,-0.3,0.15,0.35,-0.05,
  0.2,0.1,-0.25,0.3,0.05,-0.15,0.25,-0.35,0.1,0.2,
  -0.1,0.35,-0.2,0.15,0.05,-0.1,0.3,3.0,4.05,0.3,
  0.1,1.3,5.3,5.2,5.85,0.5,0.2,-0.15,0.3,0.05,
  0.2,-0.3,0.15,0.05,-0.15,0.35,0,-0.2,0.25,0.1,
  -0.1,0.3,-0.25,0.05,0.2,-0.15,0.35,0.1,-0.05,0.25,
  -0.2,0.05,0.3,-0.1,0.15,0.4,-0.3,0.1,0.25,-0.05,
  0.2,-0.25,0.05,0.35,-0.1,0.2,-0.35,0.15,0.05,0.3,
  -0.05,0.25,-0.3,0.1,0.2,-0.15,0.3,0.05,-0.2,0.35,
  0.1,-0.1,0.25,-0.25,0.05,0.3,-0.15,0.2,0,-0.3];
const TMC1C_J43_EXTRA = [[27.2,1.4],[31.7,2.65]];
const TMC1C_J43_FIT = [[-0.5,0],[25.5,0],[26.6,0.03],[27.3,1.8],[28.1,4.88],[28.8,2.0],[29.5,0.15],[30.1,0.01],[30.9,0.05],[31.5,1.5],[32.0,4.0],[32.54,5.33],[33.18,4.95],[34.04,5.59],[34.6,3.7],[35.0,1.7],[35.4,0.4],[35.9,0.03],[36.7,0],[100.14,0]];

const TMC1C_J109_DOTS = [0.1,-0.2,0.3,0.05,-0.35,0.15,-0.1,-0.4,0.2,-0.25,
  0,-0.45,0.1,-0.3,0.05,-0.2,0.15,-0.1,0.25,0.35,
  0.25,0.9,1.8,0.7,0.05,0.3,-0.15,0.2,-0.3,0.1,
  -0.05,0.15,-0.25,0.05,0.2,-0.1,0,-0.35,0.1,0.25,
  -0.15,0.05,0.3,-0.05,0.15,-0.2,0.1,0.35,0,-0.1,
  0.2,0.4,-0.15,0.1,0.25,-0.05,0.3,0.05,-0.2,0.45,
  0.1,-0.1,0.25,0.35,0,-0.25,0.2,0.4,-0.05,0.15,
  0.3,0.05,-0.2,0.25,0.45,0,0.15,-0.1,0.35,0.1,
  -0.15,0.2,0.05,0.5,-0.05,0.25,0.1,-0.3,0.2,0.35,
  0,0.3,-0.25,0.45,0.1,-0.1,0.15,-0.35,0.2,0.05,
  -0.25];
const TMC1C_J109_HALF = [-0.25,0.15,-0.1,0.3,-0.3,0.05,0.2,-0.45,0.1,-0.15,
  0.25,-0.35,0,0.15,-0.25,0.1,-0.4,0.05,0.2,0.1,
  0.35,1.3,1.65,0.25,0.1,-0.2,0.15,0.35,-0.1,0.05,
  0.2,-0.15,0.1,0.3,-0.05,0.15,0.25,-0.2,0.05,0.35,
  0.1,-0.1,0.2,0,0.35,0.15,-0.15,0.25,0.05,0.3,
  -0.05,0.15,0.3,0.45,-0.1,0.2,0.05,0.35,-0.15,0.1,
  0.3,0,0.15,-0.2,0.4,0.1,0.25,-0.1,0.2,0.35,
  -0.05,0.15,0.4,0.1,-0.15,0.3,0.2,0.05,0.45,-0.1,
  0.25,0.1,-0.2,0.35,0.15,0,0.3,0.4,-0.1,0.2,
  0.15,-0.15,0.35,0.05,0.25,-0.3,0.1,0.3,-0.05,0.2];
const TMC1C_J109_EXTRA = [[21.9,1.9]];
const TMC1C_J109_FIT = [[-0.5,0],[18.7,0],[20.06,0.02],[20.7,0.5],[21.4,1.5],[21.96,1.86],[22.6,1.4],[23.2,0.5],[23.9,0.03],[24.9,0],[100.14,0]];

// TMC-1 CP
const TMC1CP_J32_DOTS = [0.05,-0.1,0.1,0,0.15,-0.05,0.05,-0.15,0.1,0,
  0.2,0.05,-0.1,0.15,0,0.1,-0.05,0.2,-0.1,0.05,
  0.1,0.25,-0.05,0.15,0.05,0.1,0,1.0,3.2,4.4,
  1.8,0.15,0.05,-0.1,0.1,0,0.15,0,0.5,3.15,
  5.2,4.0,5.0,5.8,3.6,1.0,0,-0.05,0.15,0.05,
  0.2,0,-0.1,0.15,0.1,0.05,0.2,-0.05,0.1,0.25,
  0,0.15,-0.1,0.05,0.2,0.1,-0.05,0.15,0,0.1,
  0.05,-0.2,0.1,0.15,0,0.2,-0.1,0.05,0.15,-0.05,
  0.1,0.2,0,-0.15,0.1,0.05,0.15,-0.25,0.1,0,
  0.15,-0.05,0.1,0.2,0,-0.1,0.15,0.05,-0.05,0.1,
  0];
const TMC1CP_J32_HALF = [0.1,0,-0.05,0.15,0.05,0.1,-0.1,0.05,0.2,-0.05,
  0.1,0.15,-0.15,0.05,0.2,0,0.1,-0.05,0.15,0.05,
  0.2,0.05,0.1,-0.1,0.15,0,0.3,1.85,3.7,2.9,
  0.7,0.05,0.1,0,-0.05,0.15,0.05,0.1,1.2,4.7,
  5.0,4.4,5.25,6.0,2.3,0.2,0.05,0.1,-0.1,0.15,
  0.05,0.2,0,-0.15,0.1,0.2,0.05,-0.1,0.15,0,
  0.1,-0.05,0.15,0.2,0,-0.1,0.1,0.05,0.2,-0.05,
  0.15,0,-0.1,0.1,0.2,0.05,0,0.15,-0.15,0.1,
  0.05,-0.1,0.15,0,0.2,-0.05,0.1,0.05,-0.2,0.15,
  0,0.1,0.2,-0.1,0.05,0.15,0,-0.05,0.1,0.05];
const TMC1CP_J32_EXTRA = [[28.8,4.4],[43.0,5.9]];
const TMC1CP_J32_FIT = [[-0.5,0],[25.1,0],[26.1,0.05],[26.9,0.7],[27.6,2.3],[28.1,3.9],[28.7,5.03],[29.3,3.9],[29.8,2.3],[30.5,0.7],[31.3,0.05],[32.3,0],
  [36.7,0],[37.5,0.05],[38.2,0.9],[38.9,2.8],[39.5,4.9],[40.14,6.0],[40.7,4.9],[41.2,3.9],[41.7,4.6],[42.4,5.9],[43.1,6.51],[43.7,5.5],[44.3,3.0],[44.8,1.0],[45.3,0.15],[46.1,0],[100.14,0]];

const TMC1CP_J43_DOTS = [-0.2,0.35,0.1,-0.3,0.45,0,-0.15,0.3,0.2,-0.35,
  0.15,0.4,-0.1,0.25,-0.25,0.1,0.35,-0.2,0.05,0.3,
  -0.3,0.15,0,-0.1,2.0,4.8,5.85,6.1,2.65,3.3,
  5.2,7.1,6.9,3.6,0.2,-0.35,0.15,-0.2,0.1,0.25,
  -0.3,0.05,0.2,-0.15,0,-0.1,0.3,0.15,-0.25,0.1,
  0.4,-0.05,0.2,-0.2,0.1,0.3,-0.15,0.05,0.25,-0.3,
  0.1,0.2,-0.1,0.35,0,-0.25,0.15,0.05,-0.35,0.2,
  0.3,-0.15,0.1,0.25,-0.2,0,0.15,-0.3,0.1,0.35,
  -0.1,0.2,0.05,-0.25,0.3,0.1,-0.35,0.15,0,0.2,
  -0.15,0.25,0.1,-0.3,0.05,0.2,-0.1,0.3,0,-0.2,
  0.15];
const TMC1CP_J43_HALF = [0.25,-0.1,0.4,0.05,-0.3,0.2,0.35,-0.2,0.1,0.3,
  -0.15,0.05,0.35,-0.3,0.2,0,-0.25,0.4,0.1,-0.05,
  0.2,-0.2,0.3,0.2,2.7,5.6,6.15,5.25,1.5,5.0,
  7.4,7.2,5.8,1.5,0.05,0.25,-0.1,0.3,-0.25,0.05,
  0.2,-0.15,0.35,0,0.15,-0.3,0.1,0.25,-0.05,0.3,
  -0.2,0.15,0.05,0.35,-0.1,0.2,-0.25,0.1,0.3,0,
  -0.15,0.25,0.1,-0.3,0.2,0.05,0.35,-0.1,0.15,-0.2,
  0.05,0.3,-0.25,0.15,0,0.25,-0.15,0.2,0.35,-0.1,
  0.15,-0.3,0.25,0.1,-0.05,0.3,-0.2,0.05,0.2,-0.1,
  0.3,0,-0.2,0.15,0.25,-0.15,0.1,0.05,0.3,-0.05];
const TMC1CP_J43_EXTRA = [[24.3,-0.85],[28.0,-0.05],[28.2,0.4],[28.4,1.05]];
const TMC1CP_J43_FIT = [[-0.5,0],[21.9,0],[23.2,0.05],[23.9,0.9],[24.6,3.0],[25.3,5.5],[25.9,6.15],[26.6,6.28],[27.2,5.5],[27.7,3.2],[28.3,1.2],[28.9,2.5],[29.5,5.2],[30.1,6.5],[30.7,6.78],[31.3,6.8],[31.9,6.7],[32.5,5.6],[33.0,3.6],[33.5,1.5],[34.0,0.3],[34.5,0.03],[35.3,0],[100.14,0]];

const TMC1CP_J109_DOTS = [0.05,-0.1,0.1,0.15,-0.05,0,0.1,-0.1,0.05,0.15,
  0,-0.05,0.1,0.2,0.05,0.15,0.1,0.2,1.0,2.45,
  2.95,1.8,0.5,0.1,0.15,0.05,-0.1,0.1,0.2,0,
  0.05,-0.05,0.1,0,0.15,0.05,-0.1,0,0.1,0.05,
  -0.05,0.1,0,0.15,-0.1,0.05,0,0.1,-0.05,0.05,
  0.1,0,-0.1,0.05,0.15,0,-0.05,0.1,0.05,-0.15,
  0,0.1,0.05,-0.05,0.15,0.1,0,0.2,0.05,-0.05,
  0.1,0.15,0,0.1,-0.05,0.2,0.15,0.05,0.1,-0.1,
  0,0.1,0.05,-0.05,0.1,0,0.15,0.05,-0.1,0.05,
  -0.15,-0.05,0.05,0,-0.1,0.05,0.1,-0.05,0,0.1,
  0.05];
const TMC1CP_J109_HALF = [0,0.05,0.15,0.05,0.1,-0.05,0,0.05,0.1,0,
  0.1,0.05,0.15,0.1,0,0.2,0.1,0.55,1.55,2.55,
  2.5,0.9,0.15,0.05,0.1,0,0.05,0.15,0.1,-0.05,
  0,0.1,0.05,-0.05,0.1,0,0.05,0.1,0,0.15,
  0.05,-0.05,0.1,0.05,0,0.1,-0.05,0.05,0,0.1,
  0.05,-0.05,0,0.1,0.05,0.15,0,-0.1,0.1,0,
  0.05,0.15,0,0.1,0.05,0.2,0.1,0.15,0,0.05,
  0.15,0.05,0.1,0.2,0,0.1,0.2,0.1,0,0.05,
  0.1,0,0.05,0.1,-0.05,0.1,0.05,0,0.1,-0.05,
  -0.1,0,0.1,-0.05,0.05,0,0.05,0.1,0,0.05];
const TMC1CP_J109_EXTRA = [[20.2,2.85]];
const TMC1CP_J109_FIT = [[-0.5,0],[15.5,0],[16.9,0.03],[17.5,0.4],[18.2,1.4],[18.9,2.2],[19.5,2.45],[20.1,2.48],[20.7,2.3],[21.3,1.5],[21.9,0.5],[22.6,0.05],[23.5,0],[100.14,0]];

const DOTS = [
  [L1172_J32_DOTS, L1172_J43_DOTS, L1172_J109_DOTS],
  [L1251A_J32_DOTS, L1251A_J43_DOTS, L1251A_J109_DOTS],
  [L1389_J32_DOTS, L1389_J43_DOTS, L1389_J109_DOTS],
  [L1495B_J32_DOTS, L1495B_J43_DOTS, L1495B_J109_DOTS],
  [L1512_J32_DOTS, L1512_J43_DOTS, L1512_J109_DOTS],
  [TMC1C_J32_DOTS, TMC1C_J43_DOTS, TMC1C_J109_DOTS],
  [TMC1CP_J32_DOTS, TMC1CP_J43_DOTS, TMC1CP_J109_DOTS],
];
const HALF = [
  [L1172_J32_HALF, L1172_J43_HALF, L1172_J109_HALF],
  [L1251A_J32_HALF, L1251A_J43_HALF, L1251A_J109_HALF],
  [L1389_J32_HALF, L1389_J43_HALF, L1389_J109_HALF],
  [L1495B_J32_HALF, L1495B_J43_HALF, L1495B_J109_HALF],
  [L1512_J32_HALF, L1512_J43_HALF, L1512_J109_HALF],
  [TMC1C_J32_HALF, TMC1C_J43_HALF, TMC1C_J109_HALF],
  [TMC1CP_J32_HALF, TMC1CP_J43_HALF, TMC1CP_J109_HALF],
];
const EXTRA = [
  [L1172_J32_EXTRA, L1172_J43_EXTRA, L1172_J109_EXTRA],
  [L1251A_J32_EXTRA, L1251A_J43_EXTRA, L1251A_J109_EXTRA],
  [L1389_J32_EXTRA, L1389_J43_EXTRA, L1389_J109_EXTRA],
  [L1495B_J32_EXTRA, L1495B_J43_EXTRA, L1495B_J109_EXTRA],
  [L1512_J32_EXTRA, L1512_J43_EXTRA, L1512_J109_EXTRA],
  [TMC1C_J32_EXTRA, TMC1C_J43_EXTRA, TMC1C_J109_EXTRA],
  [TMC1CP_J32_EXTRA, TMC1CP_J43_EXTRA, TMC1CP_J109_EXTRA],
];
const FITS = [
  [L1172_J32_FIT, L1172_J43_FIT, L1172_J109_FIT],
  [L1251A_J32_FIT, L1251A_J43_FIT, L1251A_J109_FIT],
  [L1389_J32_FIT, L1389_J43_FIT, L1389_J109_FIT],
  [L1495B_J32_FIT, L1495B_J43_FIT, L1495B_J109_FIT],
  [L1512_J32_FIT, L1512_J43_FIT, L1512_J109_FIT],
  [TMC1C_J32_FIT, TMC1C_J43_FIT, TMC1C_J109_FIT],
  [TMC1CP_J32_FIT, TMC1CP_J43_FIT, TMC1CP_J109_FIT],
];

// ---------------- rendering ----------------
const W = 1661;
const H = 2070;
const FONT = '"Liberation Sans", Arial, Helvetica, sans-serif';
const X_IDS = ['x', 'x1', 'x2'];
const Y_IDS = ['y', 'y1', 'y2', 'y3', 'y4', 'y5', 'y6'];

function fmtGHz(v: number): string {
  return String(Number(v.toFixed(3)));
}

function drawPanelLabel(ctx: CanvasRenderingContext2D, x: number, top: number, name: string, trans: string) {
  ctx.fillStyle = '#000';
  ctx.textAlign = 'left';
  ctx.textBaseline = 'alphabetic';
  ctx.font = `30px ${FONT}`;
  ctx.fillText(name, x, top + 51.5);
  const y2 = top + 75.5;
  let cx = x;
  ctx.fillText('HC', cx, y2);
  cx += ctx.measureText('HC').width;
  ctx.font = `21px ${FONT}`;
  ctx.fillText('3', cx, y2 + 8);
  cx += ctx.measureText('3').width;
  ctx.font = `30px ${FONT}`;
  ctx.fillText('N  ' + trans, cx, y2);
}

const decorPlugin = {
  id: 'panelDecor',
  afterDraw(chart: any) {
    const ctx: CanvasRenderingContext2D = chart.ctx;
    ctx.save();
    ctx.strokeStyle = '#000';
    for (let r = 0; r < 7; r++) {
      for (let c = 0; c < 3; c++) {
        const xs = chart.scales[X_IDS[c]];
        const ys = chart.scales[Y_IDS[r]];
        const L = xs.left, R = xs.right, T = ys.top, B = ys.bottom;
        ctx.lineWidth = 1.5;
        ctx.beginPath();
        const step = X_MINOR_STEP[c];
        const k0 = Math.ceil(X_MIN[c] / step - 1e-6);
        const k1 = Math.floor(X_MAX[c] / step + 1e-6);
        for (let k = k0; k <= k1; k++) {
          const v = k * step;
          const major = X_LABEL_TICKS[c].some((m) => Math.abs(m - v) < step / 10);
          const len = major ? 10 : 5;
          const px = xs.getPixelForValue(v);
          ctx.moveTo(px, B); ctx.lineTo(px, B - len);
          ctx.moveTo(px, T); ctx.lineTo(px, T + len);
        }
        const j0 = Math.ceil(Y_MIN[r] / Y_MINOR_STEP - 1e-6);
        const j1 = Math.floor(Y_MAX[r] / Y_MINOR_STEP + 1e-6);
        for (let j = j0; j <= j1; j++) {
          const v = j * Y_MINOR_STEP;
          const major = Y_LABEL_TICKS[r].some((m) => Math.abs(m - v) < 1e-6);
          const len = major ? 10 : 5;
          const py = ys.getPixelForValue(v);
          ctx.moveTo(L, py); ctx.lineTo(L + len, py);
          ctx.moveTo(R, py); ctx.lineTo(R - len, py);
        }
        ctx.stroke();
        ctx.lineWidth = 2;
        ctx.strokeRect(L, T, R - L, B - T);
        const lx = L + (LABEL_SIDE[r][c] === 'L' ? 51 : 304);
        drawPanelLabel(ctx, lx, T, SOURCES[r], TRANSITIONS[c]);
      }
    }
    const area = chart.chartArea;
    ctx.fillStyle = '#000';
    ctx.font = `30px ${FONT}`;
    ctx.textAlign = 'center';
    ctx.textBaseline = 'alphabetic';
    ctx.fillText('LSR Frequency (GHz)', (area.left + area.right) / 2, 2059);
    ctx.save();
    ctx.translate(46, (area.top + area.bottom) / 2);
    ctx.rotate(-Math.PI / 2);
    ctx.textAlign = 'left';
    ctx.font = `30px ${FONT}`;
    const wT = ctx.measureText('T').width;
    const wK = ctx.measureText(' (K)').width;
    ctx.font = `21px ${FONT}`;
    const wMB = ctx.measureText('MB').width;
    let x0 = -(wT + wMB + wK) / 2;
    ctx.font = `30px ${FONT}`;
    ctx.fillText('T', x0, 0);
    x0 += wT;
    ctx.font = `21px ${FONT}`;
    ctx.fillText('MB', x0, 8);
    x0 += wMB;
    ctx.font = `30px ${FONT}`;
    ctx.fillText(' (K)', x0, 0);
    ctx.restore();
    ctx.restore();
  },
};

export default function App() {
  const ref = useRef<HTMLCanvasElement | null>(null);
  useEffect(() => {
    if (!ref.current) return;
    Chart.defaults.font.family = FONT;
    const datasets: any[] = [];
    for (let r = 0; r < 7; r++) {
      for (let c = 0; c < 3; c++) {
        const df = (X_MAX[c] - X_MIN[c]) / CHANNEL_SPAN;
        const toX = (ch: number) => X_MIN[c] + (ch + 0.5) * df;
        datasets.push({
          type: 'line',
          data: FITS[r][c].map(([ch, v]) => ({ x: toX(ch), y: v })),
          borderColor: '#ff0000',
          borderWidth: 1.5,
          pointRadius: 0,
          fill: false,
          cubicInterpolationMode: 'monotone',
          xAxisID: X_IDS[c],
          yAxisID: Y_IDS[r],
          order: 0,
        });
        const pts = DOTS[r][c].map((v, i) => ({ x: toX(i), y: v }))
          .concat(HALF[r][c].map((v, j) => ({ x: toX(j + 0.5), y: v })))
          .concat(EXTRA[r][c].map(([ch, v]) => ({ x: toX(ch), y: v })));
        datasets.push({
          type: 'scatter',
          data: pts,
          pointStyle: 'crossRot',
          pointRadius: 2.2,
          pointBorderWidth: 1,
          borderWidth: 1,
          pointBorderColor: '#000',
          borderColor: '#000',
          backgroundColor: '#000',
          xAxisID: X_IDS[c],
          yAxisID: Y_IDS[r],
          order: 1,
        });
      }
    }
    const scales: any = {};
    X_IDS.forEach((id, c) => {
      scales[id] = {
        type: 'linear',
        position: 'bottom',
        stack: 'cols',
        stackWeight: 1,
        weight: c + 1,
        min: X_MIN[c],
        max: X_MAX[c],
        grid: { display: false, drawTicks: false },
        border: { display: false },
        ticks: {
          autoSkip: false,
          maxRotation: 0,
          minRotation: 0,
          padding: 10,
          color: '#000',
          font: { size: 30, family: FONT },
          callback: (v: any) => fmtGHz(Number(v)),
        },
        afterBuildTicks: (s: any) => { s.ticks = X_LABEL_TICKS[c].map((v) => ({ value: v })); },
        afterFit: (s: any) => { s.height = 94.5; s.paddingLeft = 0; s.paddingRight = 0; },
      };
    });
    Y_IDS.forEach((id, r) => {
      scales[id] = {
        type: 'linear',
        position: 'left',
        stack: 'rows',
        stackWeight: 1,
        weight: 7 - r,
        min: Y_MIN[r],
        max: Y_MAX[r],
        grid: { display: false, drawTicks: false },
        border: { display: false },
        ticks: {
          padding: 18,
          color: '#000',
          font: { size: 30, family: FONT },
          callback: (v: any) => String(v),
        },
        afterBuildTicks: (s: any) => { s.ticks = Y_LABEL_TICKS[r].map((v) => ({ value: v })); },
        afterFit: (s: any) => { s.width = 109.3; s.paddingTop = 0; s.paddingBottom = 0; },
      };
    });
    const chart = new Chart(ref.current, {
      type: 'scatter',
      data: { datasets },
      options: {
        responsive: false,
        animation: false,
        devicePixelRatio: 1,
        events: [],
        layout: { padding: { top: 43.5, right: 42.4, left: 0, bottom: 0 } },
        plugins: { legend: { display: false }, tooltip: { enabled: false }, title: { display: false } },
        scales,
      } as any,
      plugins: [decorPlugin],
    } as any);
    return () => chart.destroy();
  }, []);
  return (
    <div style={{ position: 'absolute', left: 0, top: 0, width: W, height: H, background: '#fff' }}>
      <canvas ref={ref} width={W} height={H} style={{ width: W, height: H, display: 'block' }} />
    </div>
  );
}
